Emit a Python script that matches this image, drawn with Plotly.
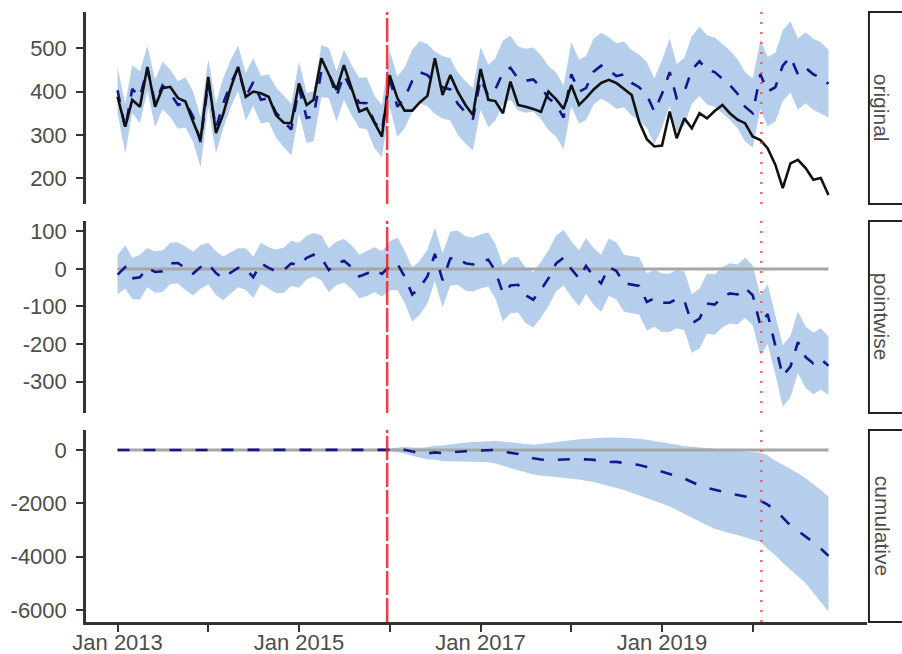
import pandas as pd
import plotly.graph_objects as go
from plotly.subplots import make_subplots

# ---------------- data ----------------
months = pd.date_range("2013-01-01", periods=95, freq="MS")

observed = [388, 319, 381, 365, 457, 365, 408, 411, 385, 377, 330, 288, 434, 304, 346, 408, 457, 388,
            400, 396, 388, 345, 328, 327, 419, 369, 381, 477, 440, 404, 461, 408, 354, 361, 327, 296,
            438, 385, 356, 356, 375, 390, 477, 392, 438, 400, 369, 346, 452, 381, 378, 350, 423, 369,
            365, 360, 353, 400, 382, 360, 415, 369, 385, 405, 420, 427, 420, 405, 392, 330, 290, 273,
            275, 354, 292, 338, 315, 350, 338, 355, 369, 350, 335, 327, 296, 288, 269, 231, 177, 234,
            242, 223, 196, 200, 161]

predicted = [403, 314, 406, 387, 454, 373, 414, 396, 369, 375, 342, 283, 420, 315, 371, 418, 454, 388,
             422, 381, 385, 351, 331, 312, 409, 339, 343, 447, 443, 389, 439, 403, 374, 373, 329, 309,
             430, 365, 385, 425, 445, 438, 420, 410, 405, 372, 352, 336, 430, 390, 405, 444, 455, 430,
             425, 428, 410, 385, 370, 340, 440, 400, 408, 446, 460, 450, 436, 440, 420, 410, 392, 354,
             395, 445, 385, 400, 450, 470, 450, 445, 430, 415, 395, 365, 350, 440, 400, 410, 460, 480,
             440, 455, 440, 432, 418]

pred_upper = [455, 372, 461, 447, 506, 428, 469, 451, 424, 433, 400, 341, 475, 373, 429, 473, 506, 443,
              477, 436, 440, 409, 391, 372, 469, 397, 401, 507, 501, 447, 497, 461, 432, 433, 389, 369,
              495, 435, 455, 497, 517, 510, 492, 482, 477, 444, 424, 408, 502, 462, 477, 518, 529, 504,
              499, 502, 484, 459, 444, 414, 514, 474, 482, 522, 536, 526, 512, 516, 496, 486, 468, 430,
              473, 523, 463, 478, 528, 550, 530, 525, 510, 495, 475, 445, 430, 520, 480, 490, 542, 562,
              522, 537, 522, 514, 496]

pred_lower = [351, 256, 351, 327, 402, 318, 359, 341, 314, 317, 284, 225, 365, 257, 313, 363, 402, 333,
              367, 326, 330, 293, 271, 252, 349, 281, 285, 387, 385, 331, 381, 345, 316, 313, 269, 249,
              365, 295, 315, 353, 373, 366, 348, 338, 333, 300, 280, 264, 358, 318, 333, 370, 381, 356,
              351, 354, 336, 311, 296, 266, 366, 326, 334, 370, 384, 374, 360, 364, 344, 334, 316, 278,
              317, 367, 307, 322, 372, 390, 370, 365, 350, 335, 315, 285, 270, 360, 320, 330, 378, 398,
              358, 373, 358, 350, 340]

pointwise = [-15, 5, -25, -22, 3, -8, -6, 15, 16, 2, -12, 5, 14, -11, -25, -10, 3, 0,
             -22, 15, 3, -6, -3, 15, 10, 30, 38, 30, -3, 15, 22, 5, -20, -12, -2, -13,
             8, 14, -20, -68, -50, -20, 40, -30, 28, 30, 15, 12, 20, 25, -5, -65, -44, -42,
             -70, -82, -55, -25, 15, 30, 0, -25, 8, -20, -38, 5, -5, -38, -42, -45, -88, -78,
             -90, -90, -80, -85, -145, -132, -92, -95, -75, -65, -68, -50, -70, -150, -120, -200, -285, -260,
             -195, -235, -252, -240, -258]

point_lower = [-67, -53, -80, -82, -49, -63, -61, -40, -39, -56, -70, -53, -41, -69, -83, -65, -49, -55,
               -77, -40, -52, -64, -63, -45, -50, -28, -20, -30, -61, -43, -36, -53, -78, -72, -62, -73,
               -57, -56, -90, -140, -122, -92, -32, -102, -44, -42, -57, -60, -52, -47, -77, -139, -118, -116,
               -144, -156, -129, -99, -59, -44, -74, -99, -66, -96, -114, -71, -81, -114, -118, -121, -164, -154,
               -168, -168, -158, -163, -223, -212, -172, -175, -155, -145, -148, -130, -150, -230, -200, -280, -367, -342,
               -277, -317, -334, -322, -336]

point_upper = [37, 63, 30, 38, 55, 47, 49, 70, 71, 60, 46, 63, 69, 47, 33, 45, 55, 55,
               33, 70, 58, 52, 57, 75, 70, 88, 96, 90, 55, 73, 80, 63, 38, 48, 58, 47,
               73, 84, 50, 4, 22, 52, 110, 42, 100, 102, 87, 84, 92, 97, 67, 9, 30, 32,
               4, -8, 19, 49, 89, 104, 74, 49, 82, 56, 38, 81, 71, 38, 34, 31, -12, -2,
               -12, -12, -2, -7, -67, -52, -12, -15, 5, 15, 12, 30, 10, -70, -40, -120, -203, -178,
               -113, -153, -170, -158, -180]

cumulative = [0] * 36 + [
    10, 25, 5, -60, -110, -130, -90, -120, -90, -60, -45, -30, -10, 10, 5, -60, -100, -150,
    -230, -310, -360, -380, -370, -345, -345, -360, -350, -370, -410, -450, -445, -480, -520, -565, -640, -720,
    -810, -900, -980, -1070, -1200, -1330, -1420, -1500, -1570, -1630, -1690, -1740, -1800, -1900, -2050, -2250, -2550, -2830,
    -3030, -3230, -3460, -3700, -3970]

cum_upper = [0] * 36 + [
    60, 100, 110, 90, 80, 100, 160, 170, 210, 250, 280, 300, 320, 330, 340, 320, 300, 260,
    220, 200, 220, 260, 300, 340, 370, 400, 420, 440, 455, 465, 470, 460, 440, 420, 380, 330,
    280, 230, 190, 150, 125, 100, 80, 55, 30, 10, -10, -35, -60, -100, -200, -400, -550, -700,
    -870, -1060, -1280, -1500, -1750]

cum_lower = [0] * 36 + [
    -40, -80, -130, -220, -300, -360, -360, -420, -420, -420, -430, -440, -450, -460, -500, -600, -680, -760,
    -850, -920, -960, -990, -1010, -1030, -1060, -1110, -1150, -1200, -1280, -1350, -1410, -1500, -1600, -1690, -1800, -1900,
    -2010, -2120, -2250, -2400, -2550, -2700, -2820, -2950, -3050, -3120, -3190, -3280, -3380, -3450, -3700, -3950, -4230, -4500,
    -4750, -5000, -5350, -5700, -6060]

zero_line = [0] * 95

panel_names = ["original", "pointwise", "cumulative"]
year_ticks = ["2013-01-01", "2014-01-01", "2015-01-01", "2016-01-01",
              "2017-01-01", "2018-01-01", "2019-01-01", "2020-01-01"]
year_labels = ["Jan 2013", "", "Jan 2015", "", "Jan 2017", "", "Jan 2019", ""]
ytick_vals = [[200, 300, 400, 500], [-300, -200, -100, 0, 100], [-6000, -4000, -2000, 0]]
ytick_text = [["200", "300", "400", "500"], ["-300", "-200", "-100", "0", "100"],
              ["-6000", "-4000", "-2000", "0"]]
intervention_date = "2015-12-22"
event_date = "2020-02-05"

# ---------------- styling ----------------
BAND = "rgb(180,206,236)"
DASH_BLUE = "#16168c"
FONT = "Liberation Sans, Arial, sans-serif"
TXT = "#4d4d4d"
AXC = "#333333"

fig = make_subplots(rows=3, cols=1, shared_xaxes=True)

def band(lo, hi, row):
    fig.add_trace(go.Scatter(x=months, y=lo, mode="lines", line=dict(width=0, color=BAND),
                             hoverinfo="skip", showlegend=False), row=row, col=1)
    fig.add_trace(go.Scatter(x=months, y=hi, mode="lines", line=dict(width=0, color=BAND),
                             fill="tonexty", fillcolor=BAND, hoverinfo="skip", showlegend=False),
                  row=row, col=1)

# original
band(pred_lower, pred_upper, 1)
fig.add_trace(go.Scatter(x=months, y=predicted, mode="lines",
                         line=dict(color=DASH_BLUE, width=2.6, dash="12px,12px")), row=1, col=1)
fig.add_trace(go.Scatter(x=months, y=observed, mode="lines",
                         line=dict(color="#111111", width=2.6)), row=1, col=1)

# pointwise
band(point_lower, point_upper, 2)
fig.add_trace(go.Scatter(x=months, y=zero_line, mode="lines",
                         line=dict(color="#a6a6a6", width=3)), row=2, col=1)
fig.add_trace(go.Scatter(x=months, y=pointwise, mode="lines",
                         line=dict(color=DASH_BLUE, width=2.6, dash="12px,12px")), row=2, col=1)

# cumulative
band(cum_lower, cum_upper, 3)
fig.add_trace(go.Scatter(x=months, y=zero_line, mode="lines",
                         line=dict(color="#a6a6a6", width=3)), row=3, col=1)
fig.add_trace(go.Scatter(x=months, y=cumulative, mode="lines",
                         line=dict(color=DASH_BLUE, width=2.6, dash="12px,14px")), row=3, col=1)

# panel geometry
domains = [[0.6852, 1.0], [0.3426, 0.6574], [0.0, 0.3148]]
yranges = [[140, 584], [-384, 128], [-6450, 750]]
xrange = ["2012-08-27", "2021-04-05"]

for i in range(3):
    fig.update_yaxes(row=i + 1, col=1, domain=domains[i], range=yranges[i],
                     tickvals=ytick_vals[i], ticktext=ytick_text[i], automargin=False,
                     showgrid=False, zeroline=False, showline=True, linecolor=AXC, linewidth=2.5,
                     ticks="outside", ticklen=7, tickwidth=2, tickcolor=AXC,
                     tickfont=dict(family=FONT, size=22, color=TXT), ticklabelstandoff=5)
    last = (i == 2)
    fig.update_xaxes(row=i + 1, col=1, range=xrange, showgrid=False, zeroline=False,
                     automargin=False,
                     showline=last, linecolor=AXC, linewidth=2.5,
                     ticks="outside" if last else "", ticklen=7, tickwidth=2, tickcolor=AXC,
                     tickvals=year_ticks, ticktext=year_labels, showticklabels=last,
                     tickfont=dict(family=FONT, size=22, color=TXT), ticklabelstandoff=-8)

# vertical markers per panel
shapes = []
for yref in ["y domain", "y2 domain", "y3 domain"]:
    shapes.append(dict(type="line", xref="x", yref=yref, x0=intervention_date, x1=intervention_date,
                       y0=0, y1=1, line=dict(color="rgba(238,30,30,0.85)", width=2.5, dash="24px,3px"),
                       layer="above"))
    shapes.append(dict(type="line", xref="x", yref=yref, x0=event_date, x1=event_date,
                       y0=0, y1=1, line=dict(color="rgba(255,80,80,0.9)", width=2.5, dash="2px,8px"),
                       layer="above"))

# facet strips on the right
annotations = []
for d, name in zip(domains, panel_names):
    shapes.append(dict(type="rect", xref="paper", yref="paper", x0=1.0025, x1=1.07,
                       y0=d[0], y1=d[1], line=dict(color="#222222", width=2), fillcolor="white",
                       layer="above"))
    annotations.append(dict(xref="paper", yref="paper", x=1.0195, y=(d[0] + d[1]) / 2,
                            text=name, textangle=90, showarrow=False,
                            font=dict(family=FONT, size=21, color=TXT),
                            xanchor="center", yanchor="middle"))

fig.update_layout(width=902, height=654, margin=dict(l=86, r=35, t=12, b=32),
                  plot_bgcolor="white", paper_bgcolor="white", showlegend=False,
                  shapes=shapes, annotations=annotations,
                  font=dict(family=FONT, color=TXT))

fig.write_html("out.html")
